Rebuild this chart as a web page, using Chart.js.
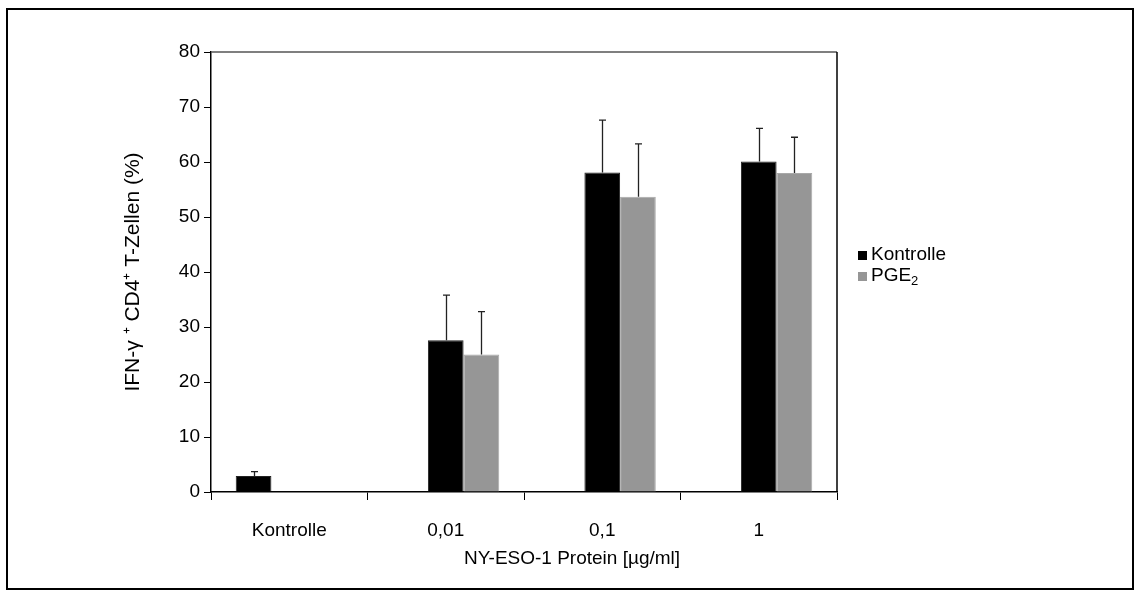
<!DOCTYPE html>
<html>
<head>
<meta charset="utf-8">
<script src="https://cdn.jsdelivr.net/npm/chart.js@4.4.1/dist/chart.umd.min.js"></script>
<style>
  html, body { margin: 0; padding: 0; background: #ffffff; }
  #wrap { width: 1141px; height: 596px; position: relative; }
</style>
</head>
<body>
<div id="wrap"><canvas id="c" width="1141" height="596"></canvas></div>
<script>
// ---- data ----
const categories = ['Kontrolle', '0,01', '0,1', '1'];
const baseValues = [2.9, null, null, null];      // unstimulated control bar
const baseErrors = [0.8, null, null, null];
const kontrolleValues = [null, 27.6, 58.1, 60.1];
const kontrolleErrors = [null, 8.2, 9.5, 6.0];
const pgeValues = [null, 25.0, 53.7, 58.0];
const pgeErrors = [null, 7.8, 9.6, 6.5];
const yTicks = [0, 10, 20, 30, 40, 50, 60, 70, 80];
const seriesLabels = ['Kontrolle', 'PGE'];
const seriesSubscripts = ['', '2'];
const xTitle = 'NY-ESO-1 Protein [\u00b5g/ml]';
const yTitle = 'IFN-\u03b3 \u207a CD4\u207a T-Zellen (%)';

const FONT = "'Liberation Sans', Arial, sans-serif";
const BLACK = '#000000';
const GRAY = '#969696';

const errorBars = {
  id: 'errorBars',
  afterDatasetsDraw(chart) {
    const ctx = chart.ctx;
    const y = chart.scales.y;
    chart.data.datasets.forEach((ds, di) => {
      if (!ds.errors) return;
      const meta = chart.getDatasetMeta(di);
      meta.data.forEach((bar, i) => {
        const v = ds.data[i], e = ds.errors[i];
        if (v == null || e == null) return;
        const x = Math.round(bar.x) + 0.5;
        const y0 = y.getPixelForValue(v);
        const y1 = y.getPixelForValue(v + e);
        ctx.save();
        ctx.strokeStyle = '#222';
        ctx.lineWidth = 1.3;
        ctx.beginPath();
        ctx.moveTo(x, y0);
        ctx.lineTo(x, y1);
        ctx.moveTo(x - 3.5, y1);
        ctx.lineTo(x + 3.5, y1);
        ctx.stroke();
        ctx.restore();
      });
    });
  }
};

const frames = {
  id: 'frames',
  afterDraw(chart) {
    const ctx = chart.ctx;
    const a = chart.chartArea;
    ctx.save();
    ctx.strokeStyle = '#555';
    ctx.lineWidth = 1.5;
    ctx.beginPath();
    ctx.moveTo(a.left, a.top);
    ctx.lineTo(a.right, a.top);
    ctx.stroke();
    ctx.strokeStyle = '#000';
    ctx.beginPath();
    ctx.moveTo(a.right, a.top);
    ctx.lineTo(a.right, a.bottom);
    ctx.stroke();
    // outer figure border
    ctx.lineWidth = 2;
    ctx.strokeStyle = '#000';
    ctx.strokeRect(7, 9, 1126, 580);
    // x axis title (offset to the right as in the reference)
    ctx.fillStyle = '#000';
    ctx.font = '19px ' + FONT;
    ctx.textAlign = 'center';
    ctx.textBaseline = 'middle';
    ctx.fillText(xTitle, (a.left + a.right) / 2 + 48, 559);
    ctx.restore();
  }
};

const legendPlugin = {
  id: 'customLegend',
  afterDraw(chart) {
    const ctx = chart.ctx;
    const a = chart.chartArea;
    const cy = (a.top + a.bottom) / 2;
    const items = chart.data.datasets.filter(d => d.showInLegend);
    ctx.save();
    ctx.textBaseline = 'middle';
    ctx.textAlign = 'left';
    items.forEach((d, i) => {
      const yy = cy - 17 + i * 21;
      const x0 = a.right + 21;
      ctx.fillStyle = d.backgroundColor;
      ctx.fillRect(x0, yy - 4, 9, 9);
      ctx.fillStyle = '#000';
      ctx.font = '19px ' + FONT;
      ctx.fillText(d.label, x0 + 13, yy);
      if (d.subscript) {
        const w = ctx.measureText(d.label).width;
        ctx.font = '13px ' + FONT;
        ctx.fillText(d.subscript, x0 + 13 + w, yy + 5);
      }
    });
    ctx.restore();
  }
};

new Chart(document.getElementById('c'), {
  type: 'bar',
  data: {
    labels: categories,
    datasets: [
      { label: 'Kontrolle (ohne Protein)', data: baseValues, errors: baseErrors,
        backgroundColor: BLACK, borderColor: '#222', borderWidth: 1, showInLegend: false },
      { label: seriesLabels[0], subscript: seriesSubscripts[0], data: kontrolleValues, errors: kontrolleErrors,
        backgroundColor: BLACK, borderColor: '#222', borderWidth: 1, showInLegend: true },
      { label: seriesLabels[1], subscript: seriesSubscripts[1], data: pgeValues, errors: pgeErrors,
        backgroundColor: GRAY, borderColor: '#a8a8a8', borderWidth: 1, showInLegend: true }
    ]
  },
  options: {
    responsive: false,
    animation: false,
    events: [],
    layout: { padding: { left: 0, top: 52, right: 304, bottom: 0 } },
    datasets: { bar: { barPercentage: 1.0, categoryPercentage: 0.684, skipNull: false } },
    plugins: { legend: { display: false }, tooltip: { enabled: false } },
    scales: {
      x: {
        offset: true,
        grid: { offset: true, drawOnChartArea: false, tickLength: 8, color: '#000', lineWidth: 1 },
        border: { color: '#000', width: 1.5 },
        ticks: { color: '#000', font: { family: FONT, size: 19 }, padding: 19 },
        title: { display: false },
        afterFit(s) { s.height = 104; }
      },
      y: {
        min: 0, max: 80,
        afterBuildTicks(s) { s.ticks = yTicks.map(v => ({ value: v })); },
        grid: { drawOnChartArea: false, tickLength: 7, color: '#000', lineWidth: 1 },
        border: { color: '#000', width: 1.5 },
        ticks: { color: '#000', font: { family: FONT, size: 19 }, padding: 4 },
        title: { display: true, text: yTitle, color: '#000', font: { family: FONT, size: 21 },
                 padding: { top: 120.4, bottom: 0 } },
        afterFit(s) { s.width = 211; }
      }
    }
  },
  plugins: [errorBars, frames, legendPlugin]
});
</script>
</body>
</html>
